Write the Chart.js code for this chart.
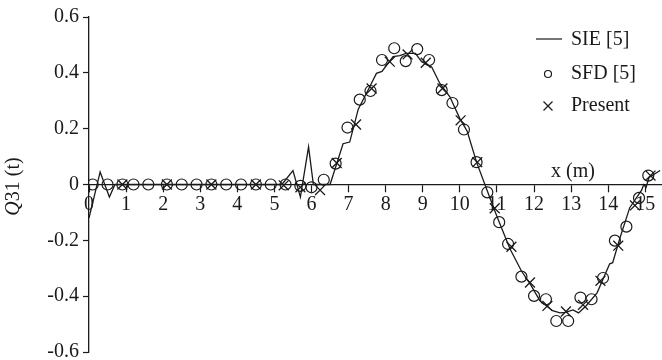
<!DOCTYPE html>
<html>
<head>
<meta charset="utf-8">
<script src="https://cdn.jsdelivr.net/npm/chart.js@4.4.0/dist/chart.umd.min.js"></script>
<style>
  html, body { margin: 0; padding: 0; background: #fff; }
  #chart { display: block; }
</style>
</head>
<body>
<canvas id="chart" width="662" height="360"></canvas>
<script>
// SIE [5] solution (solid line)
const sieX = [0, 0.3, 0.55, 0.7, 5.2, 5.5, 5.7, 5.92, 6.05, 6.5, 6.85, 7.03, 7.26, 7.57, 7.75, 7.9,
  8.2, 8.38, 8.55, 8.8, 8.97, 9.24, 9.46, 9.73, 10.0, 10.2, 10.45, 10.73, 11.0, 11.35, 11.66, 11.89,
  12.16, 12.5, 12.7, 12.85, 13.05, 13.2, 13.4, 13.7, 14.04, 14.12, 14.32, 14.58, 14.9, 14.96, 15.02,
  15.1, 15.4];
const sieY = [-0.12, 0.045, -0.045, 0, 0, 0.05, -0.045, 0.135, 0, 0, 0.146, 0.152, 0.27, 0.35, 0.398, 0.405,
  0.458, 0.462, 0.47, 0.47, 0.44, 0.421, 0.362, 0.314, 0.236, 0.19, 0.08, -0.02, -0.115, -0.23, -0.31, -0.355,
  -0.417, -0.452, -0.46, -0.458, -0.449, -0.46, -0.435, -0.388, -0.284, -0.28, -0.19, -0.083, -0.02, 0.0, -0.01,
  0.025, 0.05];

// SFD [5] results (circles)
const sfdX = [0.1, 0.5, 0.9, 1.2, 1.6, 2.1, 2.5, 2.9, 3.3, 3.7, 4.1, 4.5, 4.9, 5.3, 5.7, 6.0, 6.33, 6.65,
  6.97, 7.3, 7.59, 7.9, 8.23, 8.54, 8.85, 9.17, 9.51, 9.8, 10.11, 10.45, 10.74, 11.06, 11.3, 11.66, 12.0,
  12.32, 12.6, 12.92, 13.25, 13.55, 13.86, 14.18, 14.49, 14.83, 15.08];
const sfdY = [0, 0, 0, 0, 0, 0, 0, 0, 0, 0, 0, 0, 0, 0, -0.005, -0.01, 0.017, 0.075,
  0.204, 0.304, 0.335, 0.446, 0.488, 0.442, 0.485, 0.446, 0.338, 0.292, 0.197, 0.08, -0.028, -0.135, -0.213, -0.33, -0.399,
  -0.411, -0.489, -0.489, -0.405, -0.411, -0.335, -0.201, -0.151, -0.048, 0.032];

// Present results (crosses)
const presentX = [0.9, 2.1, 3.3, 4.5, 5.25, 5.7, 6.23, 6.68, 7.2, 7.62, 8.11, 8.59, 9.08, 9.53, 10.02,
  10.47, 10.94, 11.39, 11.89, 12.36, 12.86, 13.32, 13.79, 14.27, 14.72, 15.14];
const presentY = [0, 0, 0, 0, -0.003, -0.01, -0.02, 0.077, 0.215, 0.344, 0.44, 0.466, 0.436, 0.344, 0.23,
  0.08, -0.085, -0.223, -0.351, -0.435, -0.455, -0.431, -0.345, -0.219, -0.075, 0.032];

const xTicks = [0, 1, 2, 3, 4, 5, 6, 7, 8, 9, 10, 11, 12, 13, 14, 15];
const yTicks = [-0.6, -0.4, -0.2, 0, 0.2, 0.4, 0.6];
const legendLabels = ['SIE [5]', 'SFD [5]', 'Present'];

const ink = '#1a1a1a';
const serif = "'Liberation Serif', 'Times New Roman', serif";
const toPoints = (xs, ys) => xs.map((x, i) => ({ x: x, y: ys[i] }));

// axis titles and the legend, drawn on top of the plot
const annotations = {
  id: 'annotations',
  afterDraw(chart) {
    const { ctx, chartArea, scales } = chart;
    ctx.save();
    ctx.fillStyle = ink;
    ctx.strokeStyle = ink;

    // y title: italic Q followed by upright "31 (t)"
    ctx.translate(14, (chartArea.top + chartArea.bottom) / 2 + 2);
    ctx.rotate(-Math.PI / 2);
    ctx.textBaseline = 'middle';
    ctx.font = 'italic 20px ' + serif;
    const qW = ctx.measureText('Q').width;
    ctx.font = '20px ' + serif;
    const restW = ctx.measureText('31 (t)').width;
    const tx = -(qW + restW) / 2;
    ctx.font = 'italic 20px ' + serif;
    ctx.textAlign = 'left';
    ctx.fillText('Q', tx, 0);
    ctx.font = '20px ' + serif;
    ctx.fillText('31 (t)', tx + qW, 0);
    ctx.setTransform(1, 0, 0, 1, 0, 0);

    // x title sits just above the axis line
    ctx.font = '20px ' + serif;
    ctx.textAlign = 'center';
    ctx.textBaseline = 'middle';
    ctx.fillText('x (m)', scales.x.getPixelForValue(13.05), scales.y.getPixelForValue(0) - 13);

    // legend
    const mx = chartArea.right - 114;
    const lx = chartArea.right - 91;
    const rows = [chartArea.top + 23, chartArea.top + 57, chartArea.top + 89];
    ctx.textAlign = 'left';
    ctx.lineWidth = 1.2;

    ctx.beginPath();
    ctx.moveTo(mx - 12, rows[0] - 1);
    ctx.lineTo(mx + 14, rows[0] - 1);
    ctx.stroke();

    ctx.beginPath();
    ctx.arc(mx, rows[1], 3.5, 0, Math.PI * 2);
    ctx.stroke();

    ctx.beginPath();
    ctx.moveTo(mx - 4.5, rows[2] - 4.5);
    ctx.lineTo(mx + 4.5, rows[2] + 4.5);
    ctx.moveTo(mx + 4.5, rows[2] - 4.5);
    ctx.lineTo(mx - 4.5, rows[2] + 4.5);
    ctx.stroke();

    legendLabels.forEach((label, i) => ctx.fillText(label, lx, rows[i]));
    ctx.restore();
  }
};

new Chart(document.getElementById('chart'), {
  type: 'scatter',
  data: {
    datasets: [
      {
        label: legendLabels[0],
        data: toPoints(sieX, sieY),
        showLine: true,
        borderColor: ink,
        borderWidth: 1.3,
        pointRadius: 0,
        tension: 0
      },
      {
        label: legendLabels[1],
        data: toPoints(sfdX, sfdY),
        showLine: false,
        pointStyle: 'circle',
        pointRadius: 5.5,
        borderColor: ink,
        backgroundColor: 'rgba(0,0,0,0)',
        pointBorderWidth: 1.2
      },
      {
        label: legendLabels[2],
        data: toPoints(presentX, presentY),
        showLine: false,
        pointStyle: 'crossRot',
        pointRadius: 7,
        borderColor: ink,
        pointBorderWidth: 1.3
      }
    ]
  },
  options: {
    responsive: false,
    animation: false,
    devicePixelRatio: 1,
    layout: {
      autoPadding: false,
      padding: { top: 17, bottom: 8, left: 0, right: 0 }
    },
    plugins: {
      legend: { display: false },
      tooltip: { enabled: false }
    },
    scales: {
      x: {
        type: 'linear',
        position: { y: 0 },
        min: 0,
        max: 15.45,
        afterBuildTicks: (scale) => { scale.ticks = xTicks.map(v => ({ value: v })); },
        afterFit: (scale) => {
          scale.paddingLeft = 0;
          scale.paddingRight = 0;
        },
        grid: { drawOnChartArea: false, tickLength: 7, color: ink, tickWidth: 1.2 },
        border: { color: ink, width: 1.3 },
        ticks: {
          autoSkip: false,
          maxRotation: 0,
          padding: 1,
          color: ink,
          font: { family: serif, size: 20 }
        }
      },
      y: {
        type: 'linear',
        min: -0.6,
        max: 0.6,
        afterBuildTicks: (scale) => { scale.ticks = yTicks.map(v => ({ value: v })); },
        afterFit: (scale) => {
          scale.width = 89;
          scale.paddingTop = 0;
          scale.paddingBottom = 0;
        },
        grid: { drawOnChartArea: false, tickLength: 6, color: ink, tickWidth: 1.2 },
        border: { color: ink, width: 1.3 },
        ticks: {
          padding: 4,
          color: ink,
          font: { family: serif, size: 20 },
          callback: (v) => (Math.abs(v) < 1e-9 ? '0' : v.toFixed(1))
        }
      }
    }
  },
  plugins: [annotations]
});
</script>
</body>
</html>
